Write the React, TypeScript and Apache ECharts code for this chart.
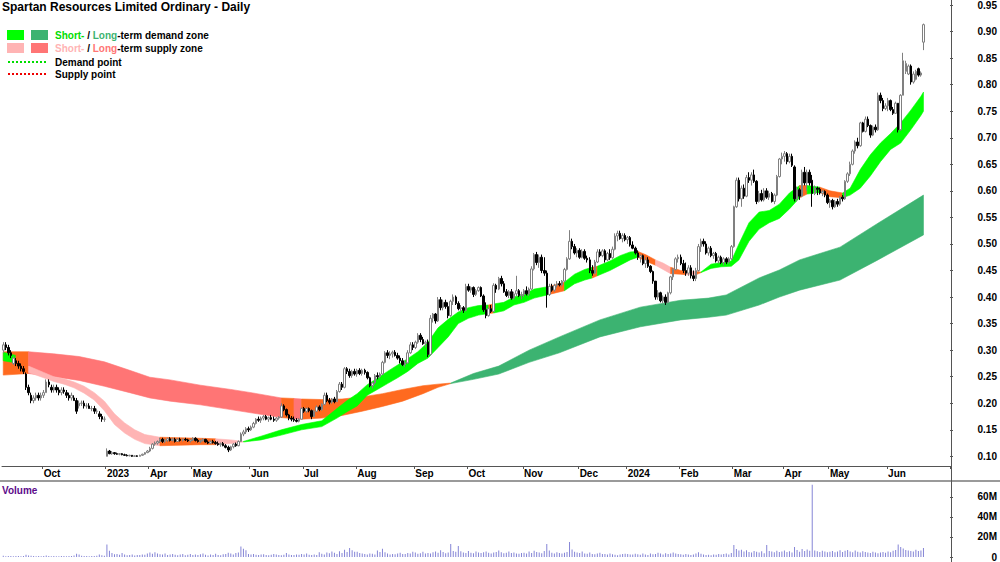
import React, { useEffect, useRef } from "react";
import * as echarts from "echarts";

const TITLE = "Spartan Resources Limited Ordinary - Daily";
const MONTHS = ["Jan", "Feb", "Mar", "Apr", "May", "Jun", "Jul", "Aug", "Sep", "Oct", "Nov", "Dec"];
const FONT = '"Liberation Sans", Arial, Helvetica, sans-serif';

// trading sessions shown (gap = suspension)
const tradingRanges = [
  ["2022-09-08", "2022-11-04"],
  ["2023-03-09", "2023-03-31"],
  ["2023-04-03", "2024-06-24"],
];
const closedDays = [
  "2022-09-22", "2023-04-07", "2023-04-10", "2023-04-25", "2023-06-12", "2023-12-25", "2023-12-26",
  "2024-01-01", "2024-01-26", "2024-03-29", "2024-04-01", "2024-04-17", "2024-04-18", "2024-04-25", "2024-06-10",
];

// candles: [open, high, low, close] in cents
const candlesSep2022 = [
  [30,31.5,29.5,31],[31,31.5,30,30.5],[30.5,31,29,29.5],[29.5,30,28.5,29],[27.5,28.8,27.2,28.5],
  [28,28.5,27,27.5],[27.5,28,26.5,27],[27,27.5,26,26.5],[26.5,27,25.5,26],[25.5,25.8,22.5,23],
  [23,23.5,21.5,22],[21.5,22,20,20.5],[20.5,21.5,20,21],[21,22,20.5,21.5],[21.5,22,20.5,21],
  [21,22,20.5,21.5],
];
const candlesOct2022 = [
  [21.5,22.5,21,22],[22,24.5,22,24],[24,24.5,23,23.5],[23,23.5,22,22.5],[22.5,23.5,22,23],
  [23,23.5,22,22.5],[22.5,23,21.5,22],[22,23,21.5,22.5],[22.5,23,21.8,22.2],[22,22.5,21,21.5],
  [21.5,22,20.5,21],[21,22,20.5,21.5],[21,21.5,20.5,20.5],[20.5,21,18,18.5],[19.5,20.5,19,20],
  [20,20.5,19.5,20],[20,20.5,19,19.5],[19.5,20,19,19.5],[19.5,20,19,19],[19,19.5,18.5,19],
  [19,19.5,18,18.5],
];
const candlesNov2022 = [[18.5,19,18,18.5],[18,18.5,17,17.5],[17.5,18,16.5,17],[17,17.5,16.5,17]];
const candlesMar2023 = [
  [10,11.5,10,11],[11,11.2,10.4,10.5],[10.5,11,10.3,10.7],[10.7,10.8,10.3,10.5],[10.5,10.7,10.3,10.4],
  [10.4,10.6,10.2,10.5],[10.5,10.6,10.2,10.3],[10.3,10.5,10.1,10.2],[10.2,10.4,10,10.1],[10.1,10.3,10,10.2],
  [10.2,10.2,9.9,10],[10,10.2,9.9,10.1],[10.1,10.2,9.9,10],[10,10.3,10,10.2],[10.2,10.5,10.1,10.4],
  [10.4,10.8,10.3,10.7],[10.7,11.2,10.6,11],
];
const candlesApr2023 = [
  [11,11.8,10.8,11.5],[11.5,12.5,11.3,12.3],[12.3,12.8,12,12.5],[12.5,13,12.2,12.8],[12.8,13.5,12.5,13.2],
  [13.2,13.5,12.5,12.8],[12.8,13.3,12.5,13],[13,13.5,12.7,13.3],[13.3,13.6,12.8,13],[13,13.5,12.8,13.2],
  [13.2,13.5,12.6,12.8],[12.8,13.4,12.7,13.2],[13.2,13.5,12.8,13],[13,13.4,12.8,13.2],[13.2,13.5,12.9,13.1],
  [13.1,13.3,12.7,12.9],[12.9,13.3,12.6,13.1],
];
const candlesMay2023 = [
  [13.1,13.6,12.9,13.4],[13.4,13.6,12.8,13],[13,13.3,12.6,12.8],[12.8,13.2,12.5,13],[13,13.4,12.8,13.2],
  [13.2,13.3,12.6,12.7],[12.7,13,12.3,12.5],[12.5,13,12.3,12.8],[12.8,13.1,12.4,12.6],[12.6,12.9,12.2,12.4],
  [12.4,12.8,12,12.2],[12.2,12.6,11.8,12.4],[12.4,12.7,11.9,12],[12,12.3,11.5,11.7],[11.7,12,10.8,11.2],
  [11.2,12,11,11.8],[11.8,12.5,11.5,12.3],[12.3,12.6,11.8,12],[12,13,11.9,12.8],[12.8,14.5,12.7,14.2],
  [14.2,15,13.8,14.6],[14.6,15.5,14.2,15.2],[15.2,15.6,14.6,15],
];
const candlesJun2023 = [
  [15,15.8,14.8,15.5],[15.5,16.5,15.3,16.2],[16.2,17.2,16,17],[17,17.5,16.5,16.8],[16.8,17.5,16.3,17.2],
  [17.2,17.8,16.8,17.5],[17.5,17.8,16.8,17],[17,17.5,16.5,17.3],[17.3,17.8,16.8,17],[17,17.5,16.5,16.8],
  [16.8,17.4,16.5,17.2],[17.2,17.6,16.9,17.4],[17.4,20,17.3,19.5],[19.5,19.8,18.5,18.8],[18.8,19,17.5,17.8],
  [17.8,18,16.8,17.2],[17.2,17.6,16.6,17],[17,17.5,16.5,16.8],[16.8,17.2,16.4,16.6],[16.6,17.2,16.4,17],
  [17,19.2,17,19],
];
const candlesJul2023 = [
  [19,19.3,18.2,18.5],[18.5,19.2,18.2,19],[19,19.2,18.3,18.6],[18.6,18.8,17,17.5],[17.5,18.8,17.4,18.5],
  [18.5,19.6,18.3,19.3],[19.3,19.6,18.5,18.8],[18.8,20,18.6,19.8],[19.8,22,19.6,21.5],[21.5,22,20.2,20.5],
  [20.5,21,19.8,20.2],[20.2,21,19.9,20.8],[20.8,21.2,20,20.3],[20.3,22.5,20.2,22.2],[22.2,24,22,23.6],
  [23.6,24,22.5,23],[23,26.8,22.8,26.5],[26.5,26.8,25.5,26],[26,26.5,24.8,25.2],[25.2,26.3,24.8,26],
  [26,26.5,25.2,25.5],
];
const candlesAug2023 = [
  [25.5,26.5,25,26.2],[26.2,26.6,25.3,25.6],[25.6,26.5,25.2,26.2],[26.2,26.5,25.4,25.8],[25.8,26,24.5,24.8],
  [24.8,25,23,23.3],[23.3,24,22.8,23.8],[23.8,25.5,23.5,25.2],[25.2,25.8,24.5,25],[25,25.8,24.7,25.5],
  [25.5,28,25.3,27.7],[27.7,29.8,27.5,29.5],[29.5,30,28.5,29],[29,29.8,28.3,29.3],[29.3,29.9,28.6,29.6],
  [29.6,30,28.8,29],[29,29.5,28.2,28.5],[28.5,29,27.5,28],[28,28.5,27,27.3],[27.3,28,26.8,27.6],
  [27.6,30,27.4,29.5],[29.5,31.5,29.3,31],[31,31.5,30,30.5],
];
const candlesSep2023 = [
  [30.5,31.8,30.2,31.5],[31.5,33.2,31.2,32.8],[32.8,33.2,31.5,32],[32,32.5,31,31.2],[31.2,31.8,30.5,31.5],
  [31.5,32,28.7,29.2],[29.2,36.6,29,36],[36,37,35.2,36.8],[36.8,37,35,35.5],[35.5,40,35.3,39.5],
  [39.5,40,37.5,38],[38,39.5,37.5,39],[39,39.5,37.8,38.2],[38.2,39,36,36.5],[36.5,39.5,36.3,39.2],
  [39.2,40.5,38.5,40],[40,40.3,38.5,38.8],[38.8,39.2,37.5,37.8],[37.8,38.5,37.2,38],[38,38.3,37,37.5],
  [37.5,42.5,37.3,42],
];
const candlesOct2023 = [
  [42,42.5,41,41.3],[41.3,42,40.8,41.8],[41.8,42,40,40.5],[40.5,41.5,40.2,41.2],[41.2,42,41,41.8],
  [41.8,42,40,40.2],[40.2,40.5,37.2,37.6],[37.6,39,36,36.5],[36.5,38.2,36.3,37.8],[37.8,38.5,37,37.3],
  [37.3,42.6,37.2,42.2],[42.2,42.5,40.8,41.5],[41.5,43.8,41.3,43.5],[43.5,44,42,42.5],[42.5,43,40.8,41],
  [41,41.5,40,40.3],[40.3,41.3,39.8,41],[41,41.5,39.5,39.8],[39.8,41,39.5,40.6],[40.6,44,40.2,41.2],
  [41.2,41.5,40,40.3],[40.3,41,39.6,40.5],
];
const candlesNov2023 = [
  [40.5,41.5,40,41.2],[41.2,42,40.3,40.6],[40.6,41.8,40.2,41.5],[41.5,45.8,41.3,45.3],[45.3,48.3,45,48],
  [48,48.5,46,46.5],[46.5,48,45.5,47.5],[47.5,48,44.5,45],[45,47.5,44,44.5],[44.5,45,38,40.5],
  [40.5,42.5,40.2,42],[42,42.5,41,41.3],[41.3,42.5,41,42.2],[42.2,43,41.8,42.5],[42.5,43,42,42.3],
  [42.3,43.2,42,43],[43,45.5,42.8,45.2],[45.2,47.5,45,47.2],[47.2,52.6,47,50.5],[50.5,51,49,49.5],
  [49.5,50,48,48.3],[48.3,49.2,47.5,48.8],
];
const candlesDec2023 = [
  [48.8,49.2,47.2,47.5],[47.5,49,47.3,48.6],[48.6,49,47,47.3],[47.3,47.8,46.5,47],[47,47.5,44.5,45],
  [45,46,44,44.5],[44.5,47,44.3,46.6],[46.6,49,46.4,48.5],[48.5,49,47.5,47.8],[47.8,49,47.5,48.7],
  [48.7,49,46.5,47],[47,48.5,46.8,48.2],[48.2,49,47,47.4],[47.4,49.5,47.2,49],[49,52,48.8,51.5],
  [51.5,52.5,50.5,52],[52,52.5,50.8,51],[51,52,50.3,51.6],[51.6,52,50.5,50.8],
];
const candlesJan2024 = [
  [50.8,51.5,50,51.2],[51.2,51.5,49.5,49.8],[49.8,50.5,49,49.2],[49.2,49.5,48,48.3],[48.3,48.8,47,47.5],
  [47.5,48,46.5,47.8],[47.8,48,46,46.3],[46.3,47.5,45.5,47],[47,47.5,45.5,45.8],[45.8,46,44.5,44.8],
  [44.8,45,42.5,43],[43,43,39.5,40],[40,41.3,39.5,40.8],[40.8,41,39,39.3],[39.3,40.3,38.8,40],
  [40,40.5,38.5,39],[39,41,38.8,40.8],[40.8,44,40.5,43.8],[43.8,45.5,43.2,45.2],[45.2,47.5,45,47.2],
  [47.2,48,46.5,47.5],
];
const candlesFeb2024 = [
  [47.5,48,46,46.3],[46.3,47,44.5,45],[45,46.5,44,44.5],[44.5,46,44,45.5],[45.5,46,43.5,44],
  [44,45,43,43.5],[43.5,45.5,43,45],[45,50,44.8,49.5],[49.5,51,48.5,50.5],[50.5,51,49.5,50],
  [50,50.5,48,48.3],[48.3,49.5,47.8,49.2],[49.2,49.6,47.5,47.8],[47.8,48.5,47.2,48.2],[48.2,48.5,46.5,46.8],
  [46.8,47.8,46.3,47.5],[47.5,47.8,46.2,46.5],[46.5,47.5,46,47.2],[47.2,47.5,46.2,46.6],[46.6,47.5,46.3,47.2],
  [47.2,49.8,47,49.5],
];
const candlesMar2024 = [
  [49.5,57.2,49.3,57],[57,62.5,56.8,62],[62,62.5,58,58.5],[58.5,61,57,60.5],[60.5,61.2,58.5,59],
  [59,63,58.8,62.5],[62.5,63.5,61.5,62],[62,63.5,61,63],[63,64,61.5,61.8],[61.8,62,57.5,58],
  [58,60,57.8,59.5],[59.5,60.2,58,58.3],[58.3,60.5,58,60],[60,60.5,58.5,58.8],[58.8,60,58.3,59.5],
  [59.5,59.8,57.8,58],[58,59.5,57.5,59.2],[59.2,63,59,62.7],[62.7,66.2,62.5,66],[66,67.2,65,66.5],
];
const candlesApr2024 = [
  [66.5,67.5,65.5,67],[67,67.3,65,65.5],[65.5,67,65.2,66.5],[66.5,67,64.5,64.8],[64.5,64.8,58,58.5],
  [58.5,60.8,58,60.2],[60.2,60.5,58.3,59],[59,64,58.8,63.5],[63.5,64.5,61,61.5],[61.5,64,60,63.5],
  [63.5,64,61,61.5],[62,63,57,59.5],[59.5,61,59.2,60.5],[60.5,60.8,59.2,60.3],[60.3,60.6,59.3,59.6],
  [59.6,60.2,59,59.9],[59.9,60.1,58.8,59.2],[59.2,59.5,57.5,57.8],
];
const candlesMay2024 = [
  [57.8,58.5,56.8,58.2],[58.2,58.5,56.5,57],[57,58.3,56.8,58],[58,58.5,57,57.5],[57.5,59,57.2,58.8],
  [58.8,59.2,58,58.5],[58.5,62,58.3,61.8],[61.8,63.5,61.5,63.2],[63.2,65.5,62.8,65],[65,67.8,64.8,67.5],
  [67.5,69.5,67,69.2],[69.2,70,68,68.5],[68.5,73,68.3,72.8],[72.8,73,71,71.2],[71.2,74,71,73.5],
  [73.5,74,72,72.3],[72.3,72.5,70,70.5],[70.5,72.3,70.3,72],[72,72.5,71,71.5],[71.5,78.5,71.3,78],
  [78,78.5,76.5,77],[77,77.5,75,75.5],[75.5,76.5,75.2,76],
];
const candlesJun2024 = [
  [76,77.5,75,77],[77,77.2,75,75.3],[75.3,75.8,74.3,74.6],[74.6,76.8,74.5,76.5],[76.5,76.5,71,71.5],
  [71.5,78.2,71.3,78],[78,86,78,84.5],[82.5,84.5,82,84],[82,83.8,81.8,83.5],[83.5,83.8,80,80.5],
  [80.5,82.5,80.2,82],[81,82.8,80.8,82.5],[83,83.2,81.5,81.8],[81.8,82.5,81.5,82.2],[88,91.5,86.5,91.3],
];

// daily volume, millions of shares
const volSep2022 = [1.2,0.8,0.9,1.0,0.7,0.9,1.1,0.8,1.0,2.2,1.5,1.3,0.9,0.8,1.0,0.7];
const volOct2022 = [0.9,1.4,1.0,0.8,0.9,0.7,0.8,1.0,0.9,0.8,1.1,0.9,1.6,3.2,2.4,1.2,0.9,1.0,0.8,1.1,0.9];
const volNov2022 = [1.2,2.5,1.8,1.3];
const volMar2023 = [12.5,6.2,4.1,2.8,3.0,2.2,4.0,2.5,1.8,2.0,2.4,1.6,2.1,1.9,2.6,2.2,3.4];
const volApr2023 = [4.6,3.2,4.8,3.5,2.8,2.4,3.6,2.0,2.5,3.0,2.2,1.8,2.6,2.9,1.7,2.3,3.1];
const volMay2023 = [2.0,2.5,1.9,2.8,3.5,2.2,1.6,2.4,2.0,3.3,2.1,1.8,2.7,3.0,4.2,3.6,2.4,3.9,4.5,10.5,8.2,6.8,3.0];
const volJun2023 = [2.6,3.1,2.2,1.9,2.4,2.8,2.0,1.7,2.3,3.0,2.5,2.1,1.8,2.2,4.0,2.6,2.0,1.9,2.4,2.2,3.0];
const volJul2023 = [2.5,3.6,2.2,1.9,2.4,2.1,4.8,3.2,2.6,4.4,3.8,5.5,4.2,3.0,5.8,4.0,7.2,5.1,9.0,6.8,5.2];
const volAug2023 = [5.2,4.1,3.5,3.0,2.6,3.4,3.2,2.5,6.5,5.0,8.2,4.8,3.4,2.6,3.0,2.8,3.5,4.2,3.1,2.9,4.0,3.6,5.2];
const volSep2023 = [4.5,3.2,3.8,5.2,3.5,4.0,3.6,4.8,5.5,4.2,6.8,5.0,3.8,4.5,13.0,6.0,5.2,11.0,5.8,4.6,4.0];
const volOct2023 = [6.0,4.2,3.8,5.4,4.6,3.9,4.8,5.6,4.2,3.6,4.4,5.0,6.5,4.8,3.8,4.2,5.5,3.9,4.6,3.5,3.2,4.0];
const volNov2023 = [4.2,3.6,5.5,4.0,6.2,5.0,4.4,3.8,6.0,13.0,6.5,4.2,3.5,4.8,3.9,3.6,4.2,5.0,15.0,7.5,5.2,4.6];
const volDec2023 = [4.0,5.5,3.6,3.2,4.4,3.0,2.8,3.6,4.2,2.9,3.1,2.5,3.4,2.8,2.2,1.8,2.5,2.9,3.2];
const volJan2024 = [3.0,2.6,2.4,3.2,2.8,2.2,3.6,2.5,2.0,3.4,2.8,3.0,4.2,3.5,2.6,3.8,2.9,3.4,4.5,3.6,3.0];
const volFeb2024 = [2.8,2.2,3.0,2.4,1.9,2.6,3.5,4.8,3.2,2.5,2.0,2.3,1.8,2.6,2.2,3.0,2.4,2.9,3.5,2.6,4.0];
const volMar2024 = [12.0,8.0,6.5,7.2,5.5,6.8,5.0,4.6,6.0,5.2,4.4,5.8,3.8,12.0,6.0,5.4,4.8,6.2,5.0,5.6];
const volApr2024 = [6.5,5.0,5.8,4.6,10.0,7.0,5.2,8.0,6.0,7.5,6.2,72.0,6.5,5.8,5.0,6.2,5.5,4.8];
const volMay2024 = [5.2,6.0,4.8,5.5,6.8,5.0,6.2,7.0,5.6,4.8,6.5,5.2,4.6,5.8,5.0,4.4,4.0,5.2,4.6,3.8,4.4,5.0,4.2];
const volJun2024 = [5.5,4.8,6.2,7.0,12.5,10.0,8.5,7.0,6.5,6.0,5.5,7.2,6.0,6.5,9.0];

// zone bands: sample day index, upper edge, lower edge (price)
const shortIdx = [0,5,10,16,20,24,28,32,36,40,44,48,52,56,62,70,78,84,90,95,102,110,118,126,132,136,140,144,148,152,156,160,164,168,172,176,180,184,188,192,194,198,202,206,210,216,222,226,230,233,235,240,244,248,251,254,258,261,264,268,270,274,276,280,284,288,291,295,299,303,307,311,315,318,323,327,332,335,339,343,347,351,355,359,363,364];
const shortHi = [
  0.296,0.29,0.27,0.258,0.25,0.246,0.24,0.232,0.22,0.204,
  0.18,0.163,0.15,0.141,0.136,0.135,0.134,0.133,0.131,0.128,
  0.138,0.15,0.16,0.167,0.19,0.205,0.218,0.235,0.247,0.26,
  0.272,0.284,0.297,0.315,0.342,0.358,0.372,0.38,0.384,0.385,
  0.387,0.39,0.40,0.405,0.415,0.42,0.428,0.443,0.452,0.456,
  0.458,0.468,0.478,0.485,0.486,0.48,0.47,0.464,0.456,0.45,
  0.449,0.448,0.447,0.462,0.465,0.468,0.50,0.54,0.56,0.563,
  0.575,0.596,0.61,0.61,0.607,0.60,0.596,0.605,0.64,0.668,
  0.69,0.708,0.728,0.752,0.778,0.786,
];
const shortLo = [
  0.28,0.276,0.258,0.248,0.241,0.236,0.229,0.219,0.206,0.186,
  0.16,0.144,0.132,0.124,0.12,0.121,0.122,0.122,0.124,0.127,
  0.131,0.14,0.15,0.156,0.172,0.184,0.195,0.215,0.226,0.237,
  0.248,0.26,0.275,0.285,0.305,0.325,0.35,0.36,0.366,0.369,
  0.37,0.374,0.385,0.39,0.398,0.405,0.412,0.425,0.432,0.436,
  0.44,0.45,0.46,0.47,0.475,0.468,0.46,0.452,0.444,0.443,
  0.442,0.442,0.446,0.454,0.457,0.458,0.47,0.505,0.528,0.54,
  0.548,0.566,0.587,0.594,0.597,0.589,0.587,0.592,0.605,0.628,
  0.655,0.678,0.69,0.715,0.742,0.75,
];
const shortZoneStates = [[0,"D"],[5,"N"],[10,"S"],[62,"N"],[84,"S"],[95,"D"],[192,"N"],[194,"D"],[216,"N"],[222,"D"],[233,"N"],[235,"D"],[251,"N"],[258,"S"],[264,"N"],[270,"S"],[274,"N"],[276,"D"],[315,"N"],[318,"D"],[323,"N"],[332,"D"]];

const longIdx = [0,10,20,30,40,50,58,66,78,90,98,110,115,118,126,134,142,150,158,166,172,177,186,196,208,220,236,252,268,279,286,299,307,315,331,346,364];
const longHi = [
  0.297,0.297,0.293,0.288,0.278,0.262,0.249,0.244,0.234,0.226,
  0.22,0.21,0.209,0.208,0.207,0.208,0.212,0.218,0.226,0.233,
  0.236,0.238,0.256,0.27,0.30,0.325,0.357,0.381,0.394,0.398,
  0.404,0.436,0.451,0.47,0.494,0.539,0.592,
];
const longLo = [
  0.253,0.256,0.25,0.243,0.232,0.22,0.21,0.204,0.197,0.188,
  0.182,0.173,0.171,0.17,0.172,0.177,0.185,0.194,0.204,0.218,
  0.23,0.237,0.245,0.255,0.277,0.295,0.325,0.344,0.357,0.362,
  0.366,0.385,0.40,0.413,0.432,0.47,0.517,
];
const longZoneStates = [[0,"N"],[10,"S"],[110,"N"],[115,"S"],[118,"N"],[177,"D"]];

const priceTicks = [0.1,0.15,0.2,0.25,0.3,0.35,0.4,0.45,0.5,0.55,0.6,0.65,0.7,0.75,0.8,0.85,0.9,0.95];
const volumeTicks = [0, 20e6, 40e6, 60e6];

const SHORT_COLORS: any = { D: "#00ff00", S: "#ffb4b4", N: "#ff6a1f" };
const LONG_COLORS: any = { D: "#3cb371", S: "#ff7575", N: "#ff6a1f" };

function buildDates() {
  const closed = new Set(closedDays);
  const out: string[] = [];
  for (const [a, b] of tradingRanges) {
    let t = Date.parse(a + "T00:00:00Z");
    const end = Date.parse(b + "T00:00:00Z");
    while (t <= end) {
      const d = new Date(t);
      const wd = d.getUTCDay();
      const s = d.toISOString().slice(0, 10);
      if (wd !== 0 && wd !== 6 && !closed.has(s)) out.push(s);
      t += 86400000;
    }
  }
  return out;
}

function bandSeries(idx: number[], hi: number[], lo: number[], states: any[], palette: any, z: number) {
  const last = idx[idx.length - 1];
  const segs = states.map((st: any, k: number) => [st[0], k + 1 < states.length ? states[k + 1][0] : last, st[1]]);
  return {
    type: "custom",
    xAxisIndex: 0,
    yAxisIndex: 0,
    z,
    silent: true,
    clip: true,
    data: segs.map((s: any, k: number) => [s[0], k]),
    renderItem: (params: any, api: any) => {
      const [s, e, key] = segs[params.dataIndex];
      const top: number[][] = [];
      const bot: number[][] = [];
      for (let k = 0; k < idx.length; k++) {
        if (idx[k] >= s && idx[k] <= e) {
          top.push(api.coord([idx[k], hi[k]]));
          bot.push(api.coord([idx[k], lo[k]]));
        }
      }
      const color = palette[key];
      return {
        type: "polygon",
        shape: { points: top.concat(bot.reverse()) },
        style: { fill: color, stroke: color, lineWidth: 0.6 },
      };
    },
  };
}

export default function App() {
  const ref = useRef<HTMLDivElement>(null);
  useEffect(() => {
    if (!ref.current) return;
    const chart = echarts.init(ref.current, undefined, { renderer: "svg" });

    const dates = buildDates();
    const candles = [
      ...candlesSep2022, ...candlesOct2022, ...candlesNov2022, ...candlesMar2023, ...candlesApr2023,
      ...candlesMay2023, ...candlesJun2023, ...candlesJul2023, ...candlesAug2023, ...candlesSep2023,
      ...candlesOct2023, ...candlesNov2023, ...candlesDec2023, ...candlesJan2024, ...candlesFeb2024,
      ...candlesMar2024, ...candlesApr2024, ...candlesMay2024, ...candlesJun2024,
    ];
    const volumes = [
      ...volSep2022, ...volOct2022, ...volNov2022, ...volMar2023, ...volApr2023, ...volMay2023,
      ...volJun2023, ...volJul2023, ...volAug2023, ...volSep2023, ...volOct2023, ...volNov2023,
      ...volDec2023, ...volJan2024, ...volFeb2024, ...volMar2024, ...volApr2024, ...volMay2024, ...volJun2024,
    ];
    const PAD = 10;
    const categories = dates.concat(Array.from({ length: PAD }, (_, k) => "pad" + k));

    // month labels at first trading day of a month
    const starts: number[] = [];
    for (let i = 1; i < dates.length; i++) {
      if (dates[i].slice(0, 7) !== dates[i - 1].slice(0, 7)) starts.push(i);
    }
    const labelMap = new Map<number, string>();
    starts.forEach((i, k) => {
      const next = k + 1 < starts.length ? starts[k + 1] : Infinity;
      if (next - i < 8) return;
      const yr = dates[i].slice(0, 4);
      labelMap.set(i, yr !== dates[i - 1].slice(0, 4) ? yr : MONTHS[+dates[i].slice(5, 7) - 1]);
    });

    const candleData = candles.map(([o, h, l, c]) => [o / 100, c / 100, l / 100, h / 100]);
    const volData = volumes.map((v) => v * 1e6);

    // pixel calibration: 0.95 at y=5, 531 px per 1.00
    const priceMax = 0.95 + 5 / 531;
    const priceMin = 0.95 - 461 / 531;
    const volMax = (76 / 61) * 60e6;

    const txt = { fontFamily: FONT, fontSize: 10, fontWeight: "bold" };

    const option: any = {
      animation: false,
      backgroundColor: "#ffffff",
      grid: [
        { left: 2, right: 49, top: 0, height: 466 },
        { left: 2, right: 49, top: 482, height: 76 },
      ],
      xAxis: [
        {
          type: "category",
          gridIndex: 0,
          data: categories,
          boundaryGap: true,
          axisLine: { show: true, lineStyle: { color: "#555", width: 1 } },
          axisTick: {
            show: true,
            inside: false,
            length: 3,
            interval: (i: number) => labelMap.has(i),
            lineStyle: { color: "#555" },
          },
          axisLabel: {
            show: true,
            interval: (i: number) => labelMap.has(i),
            formatter: (_v: string, i: number) => labelMap.get(i) || "",
            align: "left",
            margin: 2,
            color: "#000",
            ...txt,
          },
          splitLine: { show: false },
        },
        {
          type: "category",
          gridIndex: 1,
          data: categories,
          boundaryGap: true,
          axisLine: { show: false },
          axisTick: { show: false },
          axisLabel: { show: false },
          splitLine: { show: false },
        },
      ],
      yAxis: [
        {
          type: "value",
          gridIndex: 0,
          position: "right",
          min: priceMin,
          max: priceMax,
          axisLine: { show: false },
          axisTick: { show: true, length: 3, customValues: priceTicks, lineStyle: { color: "#555" } },
          axisLabel: {
            show: true,
            customValues: priceTicks,
            formatter: (v: number) => v.toFixed(2),
            margin: 47,
            align: "right",
            color: "#000",
            ...txt,
          },
          splitLine: { show: false },
        },
        {
          type: "value",
          gridIndex: 1,
          position: "right",
          min: 0,
          max: volMax,
          axisLine: { show: false },
          axisTick: { show: true, length: 3, customValues: volumeTicks, lineStyle: { color: "#555" } },
          axisLabel: {
            show: true,
            customValues: volumeTicks,
            formatter: (v: number) => (v === 0 ? "0" : Math.round(v / 1e6) + "M"),
            margin: 47,
            align: "right",
            color: "#000",
            ...txt,
          },
          splitLine: { show: false },
        },
      ],
      series: [
        bandSeries(longIdx, longHi, longLo, longZoneStates, LONG_COLORS, 1),
        bandSeries(shortIdx, shortHi, shortLo, shortZoneStates, SHORT_COLORS, 2),
        {
          type: "candlestick",
          xAxisIndex: 0,
          yAxisIndex: 0,
          data: candleData,
          barWidth: 2,
          silent: true,
          z: 5,
          itemStyle: {
            color: "#ffffff",
            color0: "#000000",
            borderColor: "#808080",
            borderColor0: "#000000",
            borderWidth: 1,
          },
        },
        {
          type: "bar",
          xAxisIndex: 1,
          yAxisIndex: 1,
          data: volData,
          barWidth: 1,
          silent: true,
          itemStyle: { color: "#8585d6" },
        },
      ],
      graphic: [
        { type: "line", shape: { x1: 0, y1: 481, x2: 1000, y2: 481 }, style: { stroke: "#9a9a9a", lineWidth: 2 }, z: 10 },
        { type: "line", shape: { x1: 951.5, y1: 0, x2: 951.5, y2: 562 }, style: { stroke: "#555", lineWidth: 1 }, z: 10 },
        { type: "text", x: 2, y: 7, style: { text: TITLE, fill: "#000", verticalAlign: "middle", ...txt, fontSize: 12 }, z: 20 },
        { type: "rect", shape: { x: 7, y: 30, width: 17, height: 10 }, style: { fill: SHORT_COLORS.D }, z: 20 },
        { type: "rect", shape: { x: 31, y: 30, width: 17, height: 10 }, style: { fill: LONG_COLORS.D }, z: 20 },
        { type: "rect", shape: { x: 7, y: 43, width: 17, height: 10 }, style: { fill: SHORT_COLORS.S }, z: 20 },
        { type: "rect", shape: { x: 31, y: 43, width: 17, height: 10 }, style: { fill: LONG_COLORS.S }, z: 20 },
        {
          type: "text", x: 55, y: 35, z: 20,
          style: {
            text: "{a|Short-} / {b|Long}-term demand zone", fill: "#000", verticalAlign: "middle", ...txt,
            rich: { a: { fill: "#00dd00", ...txt }, b: { fill: LONG_COLORS.D, ...txt } },
          },
        },
        {
          type: "text", x: 55, y: 48, z: 20,
          style: {
            text: "{a|Short-} / {b|Long}-term supply zone", fill: "#000", verticalAlign: "middle", ...txt,
            rich: { a: { fill: SHORT_COLORS.S, ...txt }, b: { fill: LONG_COLORS.S, ...txt } },
          },
        },
        { type: "line", shape: { x1: 8, y1: 62, x2: 46, y2: 62 }, style: { stroke: "#00dd00", lineWidth: 2, lineDash: [2, 2] }, z: 20 },
        { type: "line", shape: { x1: 8, y1: 74, x2: 46, y2: 74 }, style: { stroke: "#ee0000", lineWidth: 2, lineDash: [2, 2] }, z: 20 },
        { type: "text", x: 55, y: 62, style: { text: "Demand point", fill: "#000", verticalAlign: "middle", ...txt }, z: 20 },
        { type: "text", x: 55, y: 74, style: { text: "Supply point", fill: "#000", verticalAlign: "middle", ...txt }, z: 20 },
        { type: "text", x: 2, y: 490, style: { text: "Volume", fill: "#5c0a8a", verticalAlign: "middle", ...txt }, z: 20 },
      ],
    };

    chart.setOption(option);
    return () => chart.dispose();
  }, []);

  return <div ref={ref} style={{ position: "absolute", left: 0, top: 0, width: 1000, height: 562 }} />;
}
